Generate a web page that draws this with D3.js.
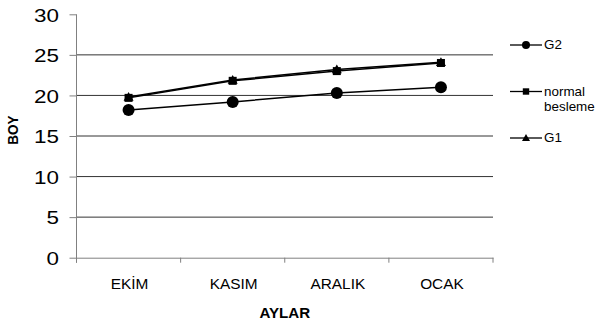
<!DOCTYPE html>
<html>
<head>
<meta charset="utf-8">
<script src="https://cdn.jsdelivr.net/npm/d3@7"></script>
<style>
  body { margin: 0; background: #fff; }
  text { font-family: "Liberation Sans", Arial, sans-serif; fill: #000; }
</style>
</head>
<body>
<div id="chart"></div>
<script>
// ===== DATA =====
const months = ['EKİM', 'KASIM', 'ARALIK', 'OCAK']
const g2 = [18.2, 19.2, 20.3, 21.0]
const normal = [19.7, 21.8, 23.0, 24.0]
const g1 = [19.8, 21.9, 23.2, 24.1]
const yTicks = [0, 5, 10, 15, 20, 25, 30]

const seriesList = [
  { name: 'G2', lines: ['G2'], values: g2, shape: 'circle' },
  { name: 'normal besleme', lines: ['normal', 'besleme'], values: normal, shape: 'square' },
  { name: 'G1', lines: ['G1'], values: g1, shape: 'triangle' }
]

// ===== STRUCTURE =====
const width = 597
const height = 325
const margin = { top: 14.3, right: 104, bottom: 67.3, left: 76.5 }

const svg = d3.select('#chart').append('svg')
  .attr('width', width)
  .attr('height', height)

const x = d3.scaleBand()
  .domain(months)
  .range([margin.left, width - margin.right])

const y = d3.scaleLinear()
  .domain([0, 30])
  .range([height - margin.bottom, margin.top])

// the source image is a little wider than tall, so text gets a horizontal stretch
const stretch = (sel, dx, dy, sx) => sel
  .attr('x', 0).attr('y', 0)
  .attr('transform', `translate(${dx},${dy}) scale(${sx},1)`)

// gridlines
svg.append('g')
  .selectAll('line')
  .data(yTicks.filter(d => d > 0 && d < 30))
  .enter()
  .append('line')
  .attr('x1', margin.left)
  .attr('x2', width - margin.right)
  .attr('y1', d => y(d))
  .attr('y2', d => y(d))
  .attr('stroke', '#333')
  .attr('stroke-width', 1)

// y axis
const yAxis = svg.append('g')
  .attr('transform', `translate(${margin.left},0)`)
  .call(d3.axisLeft(y).tickValues(yTicks).tickSize(7))
yAxis.select('.domain').attr('stroke', '#808080').attr('d', `M0,${y(30)}V${y(0) + 5}`)
yAxis.selectAll('.tick line').attr('stroke', '#808080')
yAxis.selectAll('.tick text')
  .style('font-size', '19px')
  .style('font-family', '"Liberation Sans", Arial, sans-serif')
  .attr('dy', '0.36em')
  .call(stretch, -17.5, 0, 1.18)

// x axis
const xAxis = svg.append('g')
  .attr('transform', `translate(0,${y(0)})`)
  .call(d3.axisBottom(x).tickSize(0))
xAxis.select('.domain').attr('stroke', '#808080')
xAxis.selectAll('.tick text')
  .style('font-size', '14px')
  .style('font-family', '"Liberation Sans", Arial, sans-serif')
  .attr('dy', null)
  .call(stretch, 1, 31, 1.1)

// category separator ticks
svg.append('g')
  .selectAll('line')
  .data(months.concat(['end']))
  .enter()
  .append('line')
  .attr('x1', (d, i) => i < months.length ? x(d) : x(months[months.length - 1]) + x.bandwidth())
  .attr('x2', (d, i) => i < months.length ? x(d) : x(months[months.length - 1]) + x.bandwidth())
  .attr('y1', y(0))
  .attr('y2', y(0) + 5)
  .attr('stroke', '#808080')

// axis titles
svg.append('text')
  .attr('text-anchor', 'middle')
  .style('font-size', '14px')
  .style('font-weight', 'bold')
  .text('AYLAR')
  .call(stretch, (margin.left + width - margin.right) / 2, 317.5, 1.08)

svg.append('text')
  .attr('transform', 'translate(18.3,130) rotate(-90) scale(1,1.1)')
  .attr('text-anchor', 'middle')
  .style('font-size', '13.5px')
  .style('font-weight', 'bold')
  .text('BOY')

// ===== MARKS =====
const drawMarker = (g, shape, cx, cy, s) => {
  if (shape === 'circle') {
    g.append('circle').attr('cx', cx).attr('cy', cy).attr('r', s).attr('fill', '#000')
  } else if (shape === 'square') {
    g.append('rect').attr('x', cx - s * 0.8).attr('y', cy - s * 0.8)
      .attr('width', s * 1.6).attr('height', s * 1.6).attr('fill', '#000')
  } else {
    g.append('path')
      .attr('d', `M${cx},${cy - s}L${cx + s},${cy + s * 0.75}L${cx - s},${cy + s * 0.75}Z`)
      .attr('fill', '#000')
  }
}

const line = d3.line()
  .x((d, i) => x(months[i]) + x.bandwidth() / 2)
  .y(d => y(d))

const plot = svg.append('g')
seriesList.slice().reverse().forEach(s => {
  plot.append('path')
    .datum(s.values)
    .attr('d', line)
    .attr('fill', 'none')
    .attr('stroke', '#000')
    .attr('stroke-width', 1.5)
})
seriesList.slice().reverse().forEach(s => {
  s.values.forEach((v, i) => {
    drawMarker(plot, s.shape, x(months[i]) + x.bandwidth() / 2, y(v), s.shape === 'circle' ? 6 : 5)
  })
})

// ===== LEGEND =====
const legendY = [45, 91.5, 138]
const legend = svg.append('g')
seriesList.forEach((s, i) => {
  const ly = legendY[i]
  legend.append('line')
    .attr('x1', 510).attr('x2', 542)
    .attr('y1', ly).attr('y2', ly)
    .attr('stroke', '#000').attr('stroke-width', 1.3)
  drawMarker(legend, s.shape, 526, ly, 4)
  s.lines.forEach((t, j) => {
    legend.append('text')
      .attr('dy', '0.35em')
      .style('font-size', '12px')
      .text(t)
      .call(stretch, 544, ly + j * 15, 1.12)
  })
})
</script>
</body>
</html>
